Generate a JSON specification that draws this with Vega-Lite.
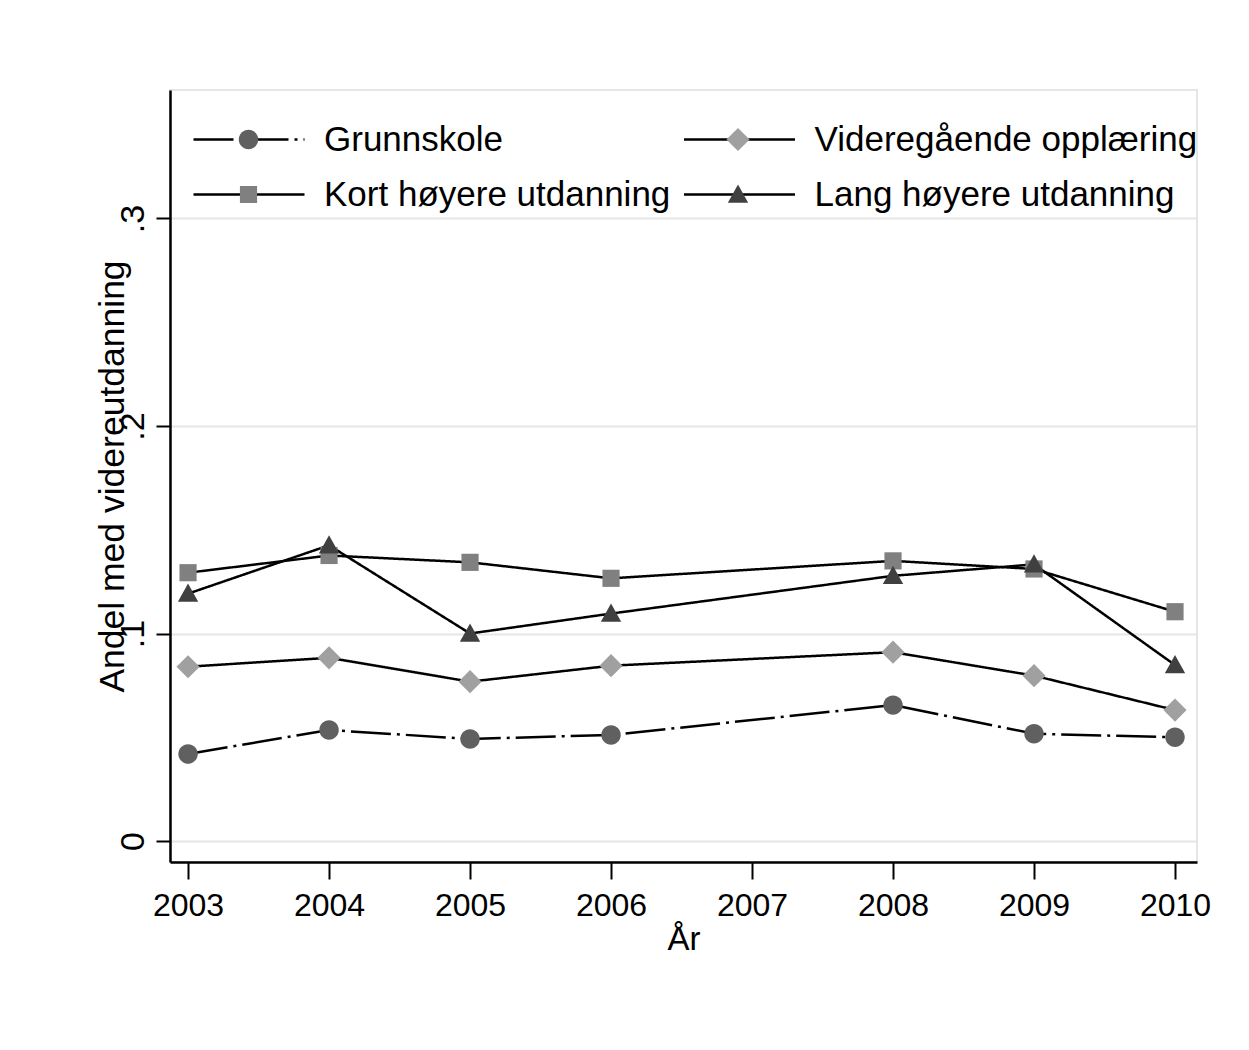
{
  "$schema": "https://vega.github.io/schema/vega-lite/v6.json",
  "autosize": {"type": "none"},
  "padding": {"left": 170, "top": 90, "right": 52, "bottom": 188},
  "width": 1027,
  "height": 772,
  "background": "white",
  "config": {
    "view": {"stroke": "#e6e6e6", "strokeWidth": 2},
    "axis": {
      "domainColor": "black", "domainWidth": 2.5,
      "tickColor": "black", "tickWidth": 2,
      "gridColor": "#e6e6e6", "gridWidth": 2,
      "labelColor": "black", "titleColor": "black",
      "titleFontWeight": "normal", "labelFlush": false, "labelOverlap": false
    }
  },
  "data": {"values": [
    {"year": 2003, "utdanning": "Grunnskole", "andel": 0.0419},
    {"year": 2004, "utdanning": "Grunnskole", "andel": 0.0535},
    {"year": 2005, "utdanning": "Grunnskole", "andel": 0.0492},
    {"year": 2006, "utdanning": "Grunnskole", "andel": 0.0511},
    {"year": 2008, "utdanning": "Grunnskole", "andel": 0.0655},
    {"year": 2009, "utdanning": "Grunnskole", "andel": 0.0517},
    {"year": 2010, "utdanning": "Grunnskole", "andel": 0.0500},
    {"year": 2003, "utdanning": "Videregående opplæring", "andel": 0.0840},
    {"year": 2004, "utdanning": "Videregående opplæring", "andel": 0.0883},
    {"year": 2005, "utdanning": "Videregående opplæring", "andel": 0.0768},
    {"year": 2006, "utdanning": "Videregående opplæring", "andel": 0.0845},
    {"year": 2008, "utdanning": "Videregående opplæring", "andel": 0.0910},
    {"year": 2009, "utdanning": "Videregående opplæring", "andel": 0.0797},
    {"year": 2010, "utdanning": "Videregående opplæring", "andel": 0.0631},
    {"year": 2003, "utdanning": "Kort høyere utdanning", "andel": 0.1293},
    {"year": 2004, "utdanning": "Kort høyere utdanning", "andel": 0.1376},
    {"year": 2005, "utdanning": "Kort høyere utdanning", "andel": 0.1343},
    {"year": 2006, "utdanning": "Kort høyere utdanning", "andel": 0.1266},
    {"year": 2008, "utdanning": "Kort høyere utdanning", "andel": 0.1350},
    {"year": 2009, "utdanning": "Kort høyere utdanning", "andel": 0.1311},
    {"year": 2010, "utdanning": "Kort høyere utdanning", "andel": 0.1105},
    {"year": 2003, "utdanning": "Lang høyere utdanning", "andel": 0.1192},
    {"year": 2004, "utdanning": "Lang høyere utdanning", "andel": 0.1425},
    {"year": 2005, "utdanning": "Lang høyere utdanning", "andel": 0.1000},
    {"year": 2006, "utdanning": "Lang høyere utdanning", "andel": 0.1096},
    {"year": 2008, "utdanning": "Lang høyere utdanning", "andel": 0.1278},
    {"year": 2009, "utdanning": "Lang høyere utdanning", "andel": 0.1333},
    {"year": 2010, "utdanning": "Lang høyere utdanning", "andel": 0.0848}
  ]},
  "encoding": {
    "x": {
      "field": "year", "type": "quantitative",
      "scale": {"domain": [2002.872, 2010.156], "nice": false, "zero": false},
      "axis": {
        "title": "År", "values": [2003, 2004, 2005, 2006, 2007, 2008, 2009, 2010], "format": "d",
        "grid": false, "tickSize": 17, "labelPadding": 11,
        "labelFont": "Liberation Sans", "labelFontSize": 32,
        "titleFont": "Liberation Sans", "titleFontSize": 33, "titlePadding": 2
      }
    },
    "y": {
      "field": "andel", "type": "quantitative",
      "scale": {"domain": [-0.0101, 0.3619], "nice": false, "zero": false},
      "axis": {
        "title": "Andel med videreutdanning", "values": [0, 0.1, 0.2, 0.3],
        "labelExpr": "datum.value === 0 ? '0' : '.' + round(datum.value * 10)",
        "grid": true, "tickSize": 14, "labelPadding": 13,
        "labelAngle": 270, "labelAlign": "center", "labelBaseline": "alphabetic",
        "labelFont": "Liberation Sans", "labelFontSize": 34,
        "titleFont": "Liberation Sans", "titleFontSize": 35.5, "titlePadding": -14
      }
    }
  },
  "layer": [
    {
      "mark": {"type": "line", "color": "black", "strokeWidth": 2.5},
      "encoding": {
        "strokeDash": {
          "field": "utdanning", "type": "nominal",
          "sort": ["Grunnskole", "Videregående opplæring", "Kort høyere utdanning", "Lang høyere utdanning"],
          "scale": {"range": [[40, 6, 3, 6], [1, 0], [1, 0], [1, 0]]},
          "legend": {
            "title": null, "orient": "none", "legendX": 22, "legendY": 22, "direction": "horizontal",
            "columns": 2, "columnPadding": 11.5, "rowPadding": 0, "clipHeight": 55, "padding": 0,
            "symbolType": "stroke", "symbolSize": 12321, "symbolStrokeWidth": 2.5, "symbolStrokeColor": "black",
            "labelOffset": 18, "labelFont": "Liberation Sans", "labelFontSize": 35, "labelColor": "black", "labelLimit": 1000
          }
        }
      }
    },
    {
      "mark": {"type": "point", "filled": true, "opacity": 1, "size": 12769, "strokeWidth": 0},
      "encoding": {
        "shape": {
          "field": "utdanning", "type": "nominal",
          "scale": {
            "domain": ["Grunnskole", "Videregående opplæring", "Kort høyere utdanning", "Lang høyere utdanning"],
            "range": [
              "M0.172,0A0.172,0.172,0,1,1,-0.172,0A0.172,0.172,0,1,1,0.172,0Z",
              "M0,-0.205L0.205,0L0,0.205L-0.205,0Z",
              "M-0.152,-0.152L0.152,-0.152L0.152,0.152L-0.152,0.152Z",
              "M0,-0.178L0.18,0.145L-0.18,0.145Z"
            ]
          },
          "legend": {
            "title": null, "orient": "none", "legendX": 22, "legendY": 22, "direction": "horizontal",
            "columns": 2, "columnPadding": 11.5, "rowPadding": 0, "clipHeight": 55, "padding": 0,
            "symbolSize": 12769, "symbolStrokeWidth": 0, "symbolOpacity": 1,
            "labelOffset": 18, "labelFont": "Liberation Sans", "labelFontSize": 35, "labelColor": "transparent", "labelLimit": 1000
          }
        },
        "color": {
          "field": "utdanning", "type": "nominal",
          "scale": {
            "domain": ["Grunnskole", "Videregående opplæring", "Kort høyere utdanning", "Lang høyere utdanning"],
            "range": ["#606060", "#a0a0a0", "#808080", "#404040"]
          },
          "legend": {
            "title": null, "orient": "none", "legendX": 22, "legendY": 22, "direction": "horizontal",
            "columns": 2, "columnPadding": 11.5, "rowPadding": 0, "clipHeight": 55, "padding": 0,
            "symbolSize": 12769, "symbolStrokeWidth": 0, "symbolOpacity": 1,
            "labelOffset": 18, "labelFont": "Liberation Sans", "labelFontSize": 35, "labelColor": "transparent", "labelLimit": 1000
          }
        }
      }
    }
  ]
}
